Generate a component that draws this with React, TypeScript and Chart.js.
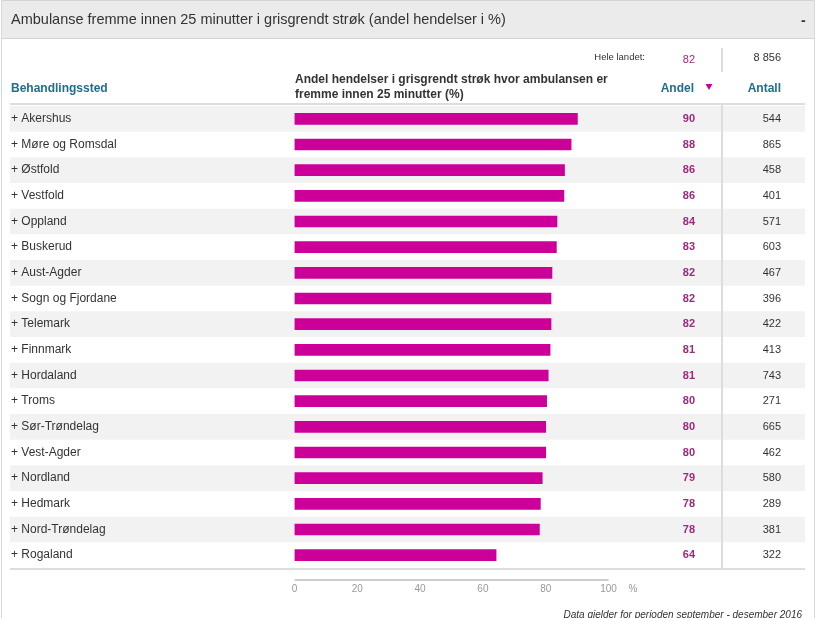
import React, { useEffect, useRef } from "react";
import { Chart, registerables } from "chart.js";

Chart.register(...registerables);

const title = "Ambulanse fremme innen 25 minutter i grisgrendt strøk (andel hendelser i %)";
const categories = [
  "Akershus", "Møre og Romsdal", "Østfold", "Vestfold", "Oppland", "Buskerud",
  "Aust-Agder", "Sogn og Fjordane", "Telemark", "Finnmark", "Hordaland", "Troms",
  "Sør-Trøndelag", "Vest-Agder", "Nordland", "Hedmark", "Nord-Trøndelag", "Rogaland",
];
const andel = [90.1, 88.1, 86.0, 85.8, 83.6, 83.4, 82.0, 81.7, 81.7, 81.4, 80.8, 80.3, 80.0, 80.0, 78.9, 78.3, 78.0, 64.2];
const antall = [544, 865, 458, 401, 571, 603, 467, 396, 422, 413, 743, 271, 665, 462, 580, 289, 381, 322];
const heleLandetAndel = 82;
const heleLandetAntall = "8 856";
const xTicks = [0, 20, 40, 60, 80, 100];
const footer = "Data gjelder for perioden september - desember 2016";

const FONT = "'Liberation Sans', Arial, sans-serif";
const TEAL = "#1e6e8c";
const PURPLE = "#9b2a7c";
const MAGENTA = "#cc0099";

const tablePlugin = {
  id: "tablePlugin",
  beforeDraw(chart: any) {
    const { ctx } = chart;
    const y = chart.scales.y;
    ctx.save();
    ctx.fillStyle = "#ffffff";
    ctx.fillRect(0, 0, chart.width, chart.height);
    ctx.strokeStyle = "#d9d9d9";
    ctx.lineWidth = 1;
    ctx.beginPath();
    ctx.moveTo(1.5, 0);
    ctx.lineTo(1.5, chart.height);
    ctx.moveTo(814.5, 0);
    ctx.lineTo(814.5, chart.height);
    ctx.stroke();
    ctx.fillStyle = "#ebebeb";
    ctx.fillRect(2, 1, 812, 37);
    ctx.strokeStyle = "#d4d4d4";
    ctx.beginPath();
    ctx.moveTo(1, 0.5);
    ctx.lineTo(815, 0.5);
    ctx.moveTo(1, 38.5);
    ctx.lineTo(815, 38.5);
    ctx.stroke();
    const n = categories.length;
    const band = (y.bottom - y.top) / n;
    for (let i = 0; i < n; i++) {
      if (i % 2 === 0) {
        const c = y.getPixelForValue(i);
        ctx.fillStyle = "#f2f2f2";
        ctx.fillRect(10, c - band / 2, 795, band);
      }
    }
    ctx.restore();
  },
  afterDraw(chart: any) {
    const { ctx } = chart;
    const y = chart.scales.y;
    const x = chart.scales.x;
    ctx.save();
    ctx.fillStyle = "#333333";
    ctx.font = `14.5px ${FONT}`;
    ctx.textBaseline = "middle";
    ctx.textAlign = "left";
    ctx.fillText(title, 11, 20);
    ctx.font = `bold 14px ${FONT}`;
    ctx.fillText("-", 801, 21);

    ctx.font = `9.5px ${FONT}`;
    ctx.textAlign = "right";
    ctx.fillStyle = "#333333";
    ctx.fillText("Hele landet:", 645, 57);
    ctx.font = `11px ${FONT}`;
    ctx.fillStyle = PURPLE;
    ctx.fillText(String(heleLandetAndel), 695, 60);
    ctx.fillStyle = "#333333";
    ctx.fillText(heleLandetAntall, 781, 58);

    ctx.font = `bold 12px ${FONT}`;
    ctx.fillStyle = TEAL;
    ctx.textAlign = "left";
    ctx.fillText("Behandlingssted", 11, 89);
    ctx.fillStyle = "#333333";
    ctx.fillText("Andel hendelser i grisgrendt strøk hvor ambulansen er", 295, 80);
    ctx.fillText("fremme innen 25 minutter (%)", 295, 95);
    ctx.fillStyle = TEAL;
    ctx.textAlign = "right";
    ctx.fillText("Andel", 694, 89);
    ctx.fillText("Antall", 781, 89);
    ctx.fillStyle = MAGENTA;
    ctx.beginPath();
    ctx.moveTo(705.5, 84);
    ctx.lineTo(712.5, 84);
    ctx.lineTo(709, 90);
    ctx.closePath();
    ctx.fill();

    ctx.strokeStyle = "#dddddd";
    ctx.lineWidth = 2;
    ctx.beginPath();
    ctx.moveTo(10, 104);
    ctx.lineTo(805, 104);
    ctx.moveTo(10, y.bottom + 1);
    ctx.lineTo(805, y.bottom + 1);
    ctx.stroke();
    ctx.beginPath();
    ctx.moveTo(722, 48);
    ctx.lineTo(722, 72);
    ctx.moveTo(722, 105);
    ctx.lineTo(722, y.bottom);
    ctx.stroke();

    ctx.textAlign = "right";
    for (let i = 0; i < categories.length; i++) {
      const c = y.getPixelForValue(i);
      ctx.font = `bold 11px ${FONT}`;
      ctx.fillStyle = PURPLE;
      ctx.fillText(String(Math.round(andel[i])), 695, c);
      ctx.font = `11px ${FONT}`;
      ctx.fillStyle = "#333333";
      ctx.fillText(String(antall[i]), 781, c);
    }

    ctx.strokeStyle = "#cccccc";
    ctx.lineWidth = 2;
    ctx.beginPath();
    ctx.moveTo(x.getPixelForValue(0), y.bottom + 12);
    ctx.lineTo(x.getPixelForValue(100), y.bottom + 12);
    ctx.stroke();
    ctx.font = `10px ${FONT}`;
    ctx.fillStyle = "#999999";
    ctx.textAlign = "left";
    ctx.fillText("%", x.getPixelForValue(100) + 20, 589);

    ctx.font = `italic 10px ${FONT}`;
    ctx.fillStyle = "#333333";
    ctx.textAlign = "right";
    ctx.fillText(footer, 802, 615);
    ctx.restore();
  },
};

export default function App() {
  const ref = useRef<HTMLCanvasElement | null>(null);
  useEffect(() => {
    if (!ref.current) return;
    const chart = new Chart(ref.current, {
      type: "bar",
      data: {
        labels: categories,
        datasets: [
          {
            data: andel,
            backgroundColor: MAGENTA,
            barThickness: 11,
          },
        ],
      },
      options: {
        indexAxis: "y",
        animation: false,
        responsive: false,
        maintainAspectRatio: false,
        layout: { padding: { left: 11, right: 207.5, top: 106, bottom: 0 } },
        plugins: { legend: { display: false }, tooltip: { enabled: false } },
        scales: {
          y: {
            type: "category",
            grid: { display: false, drawTicks: false },
            border: { display: false },
            ticks: {
              crossAlign: "far",
              color: "#333333",
              font: { family: FONT, size: 12 },
              padding: 0,
              callback: (_v: any, i: number) => "+ " + categories[i],
            },
            afterFit: (s: any) => {
              s.width = 283.5;
            },
          },
          x: {
            type: "linear",
            min: 0,
            max: 100,
            afterBuildTicks: (s: any) => {
              s.ticks = xTicks.map((v) => ({ value: v }));
            },
            grid: { display: false, drawTicks: false },
            border: { display: false },
            ticks: {
              color: "#999999",
              font: { family: FONT, size: 10 },
              padding: 15,
            },
            afterFit: (s: any) => {
              s.height = 50;
            },
          },
        },
      },
      plugins: [tablePlugin],
    });
    return () => chart.destroy();
  }, []);
  return (
    <div style={{ position: "fixed", left: 0, top: 0, width: 816, height: 618 }}>
      <canvas ref={ref} width={816} height={618} style={{ width: 816, height: 618, display: "block" }} />
    </div>
  );
}
